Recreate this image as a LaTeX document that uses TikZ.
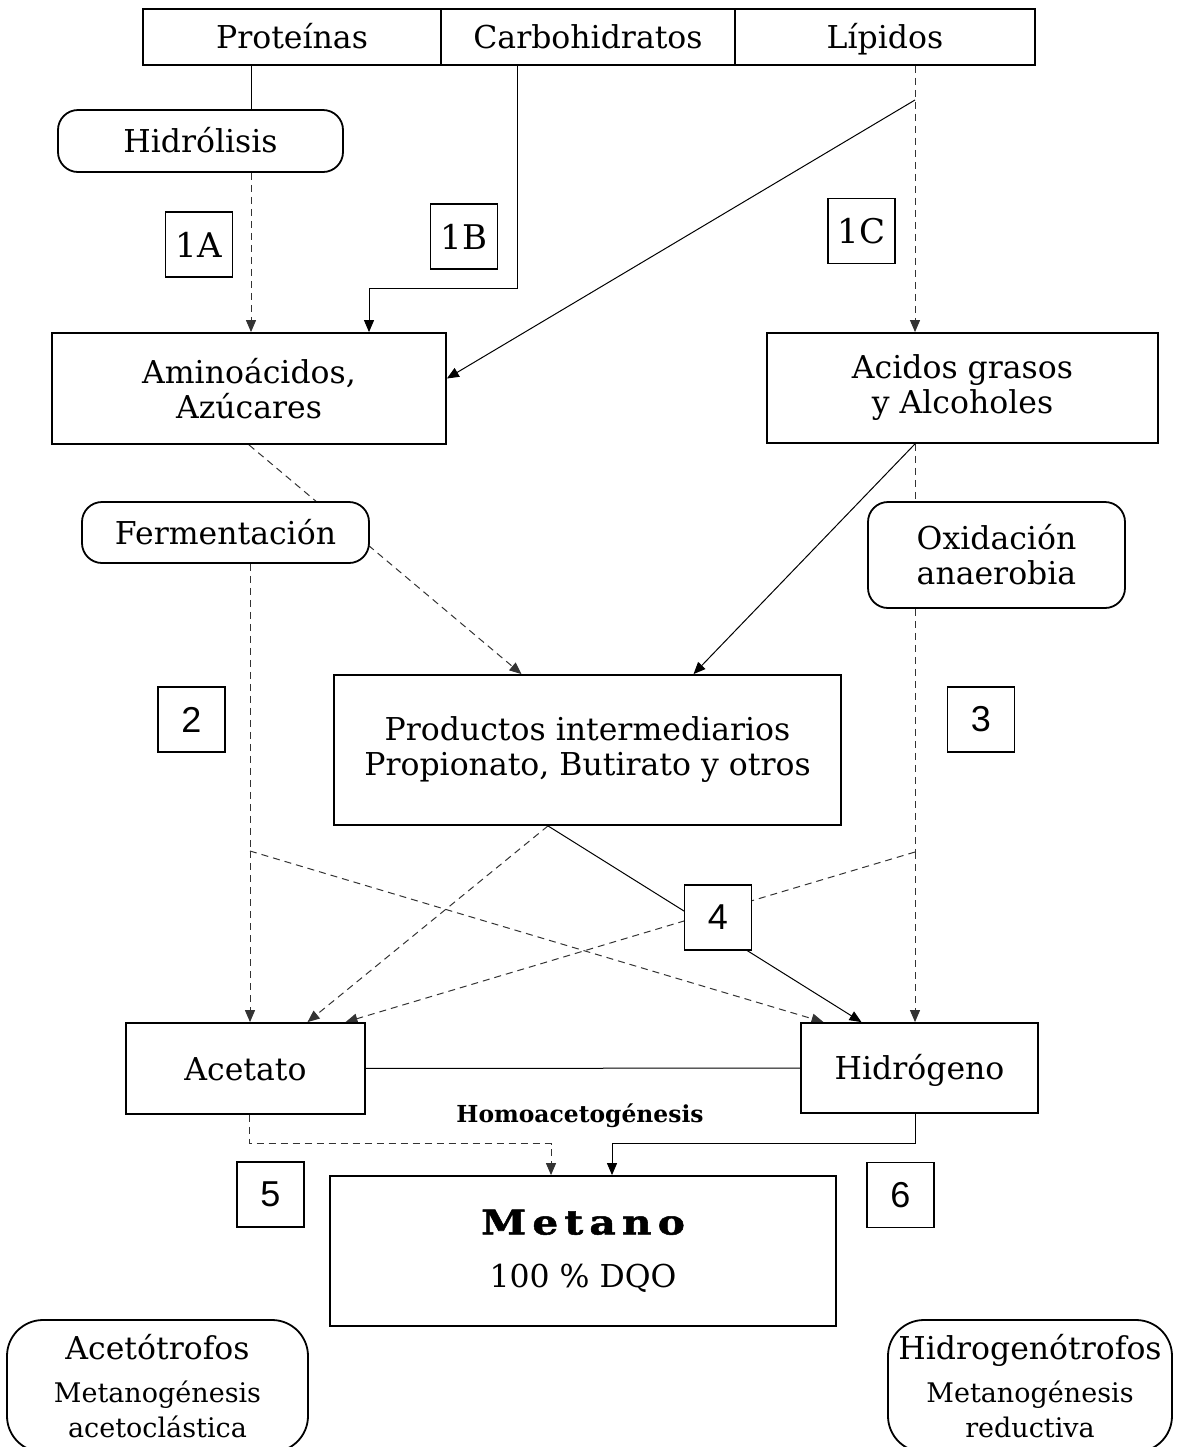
\documentclass[tikz,border=0pt]{standalone}
\usepackage{fontspec}
\setmainfont{DejaVu Serif}
\newfontfamily\digitfont{Liberation Sans}
\newcommand\subsz{\fontsize{13.5}{15.5}\selectfont}
\usetikzlibrary{arrows.meta,backgrounds}
\tikzset{
  box/.style={draw,line width=0.9pt,inner sep=0pt,align=center,fill=white},
  oneline/.style={text height=13.4pt,text depth=1.9pt},
  procbox/.style={box,rounded corners=10pt},
  groupbox/.style={box,rounded corners=18pt},
  numbox/.style={box,minimum width=33.5pt,minimum height=32.5pt},
  link/.style={line width=0.5pt,-{Triangle[length=6pt,width=5pt]}},
  faint/.style={link,dash pattern=on 3.5pt off 2.5pt,black!80},
}

\begin{document}
\begin{tikzpicture}[x=0.5pt,y=-0.5pt,font=\fontsize{15.75}{17.5}\selectfont]
\useasboundingbox (0,0) rectangle (1183,1447);
\clip (0,0) rectangle (1183,1447);
% sustratos
\node[box,oneline,minimum width=149pt,minimum height=28pt] (prot) at (292,37) {Proteínas};
\node[box,oneline,minimum width=147pt,minimum height=28pt] (carb) at (588,37) {Carbohidratos};
\node[box,oneline,minimum width=150pt,minimum height=28pt] (lip) at (885,37) {Lípidos};
\node[procbox,oneline,minimum width=142.5pt,minimum height=31pt] (hidro) at (200.5,141) {Hidrólisis};
% productos
\node[box,minimum width=197pt,minimum height=55.5pt] (amino) at (249,388.5) {Aminoácidos,\\Azúcares};
\node[box,minimum width=195.5pt,minimum height=55pt] (acidos) at (962.5,388) {Acidos grasos\\y Alcoholes};
\node[procbox,oneline,minimum width=143.5pt,minimum height=30.5pt] (ferm) at (225.5,532.5) {Fermentación};
\node[procbox,minimum width=128.5pt,minimum height=53pt] (oxid) at (996.5,555) {Oxidación\\anaerobia};
\node[box,minimum width=253.5pt,minimum height=75pt] (prod) at (587.5,750) {Productos intermediarios\\Propionato, Butirato y otros};
\node[box,oneline,minimum width=119.5pt,minimum height=45.5pt] (acet) at (245.5,1068.5) {Acetato};
\node[box,oneline,minimum width=118.5pt,minimum height=45pt] (hidrog) at (919.5,1068) {Hidrógeno};
\node[font=\fontsize{11.7}{13}\selectfont\bfseries] (homo) at (580,1116) {Homoacetogénesis};
\node[box,minimum width=253pt,minimum height=75pt] (metano) at (583,1251)
  {{\fontsize{17}{19}\selectfont\bfseries\addfontfeatures{FakeStretch=1.2,FakeBold=1.5,LetterSpace=18}Metano}\\[9pt]100 \% DQO};
\node[groupbox,minimum width=150.5pt,minimum height=66pt] (acetot) at (157.5,1386)
  {Acetótrofos\\[4pt]\subsz Metanogénesis\\\subsz acetoclástica};
\node[groupbox,minimum width=142pt,minimum height=66pt] (hidrogt) at (1030,1386)
  {Hidrogenótrofos\\[4pt]\subsz Metanogénesis\\\subsz reductiva};
% etapas
\foreach \n/\x/\y in {1A/199/244.5,1B/464/236.5,1C/861.5/231}
  \node[numbox,font=\fontsize{17}{20}\selectfont] (n\n) at (\x,\y) {\n};
\foreach \n/\x/\y in {2/191.5/719.5,3/981/719.5,4/718/917.5,5/270.5/1194.5,6/900.5/1195}
  \node[numbox,font=\digitfont\fontsize{18}{20}\selectfont] (n\n) at (\x,\y) {\n};
\path (251,0) coordinate (cA) (369,288) coordinate (cB) (915,0) coordinate (cD)
  (915,100) coordinate (ls) (250,851) coordinate (fe) (915,852) coordinate (ox);
\begin{scope}[on background layer]
  \draw[line width=0.5pt] (prot.south -| cA) -- (hidro.north -| cA);
  \draw[faint] (hidro.south -| cA) -- (amino.north -| cA);
  \draw[link] ([xshift=-35.5pt]carb.south) |- (cB) -- (amino.north -| cB);
  \draw[faint] (lip.south -| cD) -- (acidos.north -| cD);
  \draw[link] (ls) -- ([yshift=5pt]amino.east);
  \draw[faint] (amino.south) -- ([xshift=-33pt]prod.north);
  \draw[link] (acidos.south -| cD) -- ([xshift=53pt]prod.north);
  \draw[faint,-] (acidos.south -| cD) -- (oxid.north -| cD);
  \draw[faint,-] (oxid.south -| cD) -- (ox);
  \draw[faint] (ox) -- (hidrog.north -| cD);
  \draw[faint] (ox) -- ([xshift=50pt]acet.north);
  \draw[faint,-] (ferm.south -| fe) -- (fe);
  \draw[faint] (fe) -- (acet.north -| fe);
  \draw[faint] (fe) -- ([xshift=-48pt]hidrog.north);
  \draw[faint] ([xshift=-19.75pt]prod.south) -- ([xshift=31pt]acet.north);
  \draw[link] ([xshift=-19.75pt]prod.south) -- ([xshift=-29pt]hidrog.north);
  \draw[line width=0.5pt] (acet) -- (hidrog);
  \draw[faint] ([xshift=2pt]acet.south) -- ++(0,29) -| ([xshift=-16pt]metano.north);
  \draw[link] (hidrog.south -| cD) -- ++(0,30) -| ([xshift=14.5pt]metano.north);
\end{scope}
\end{tikzpicture}
\end{document}
